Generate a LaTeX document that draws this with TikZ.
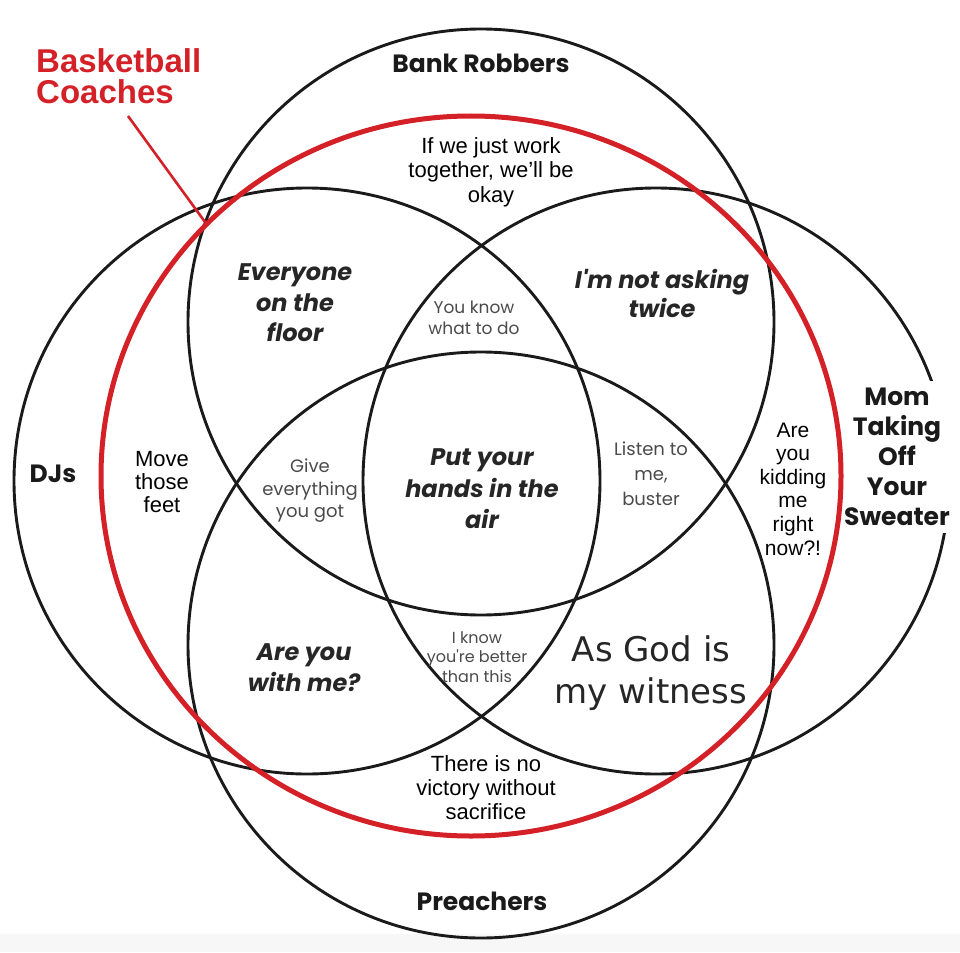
\documentclass[tikz,border=0pt]{standalone}
\usepackage{fontspec}
\setmainfont{Liberation Sans}
\newfontfamily\pop{Poppins}
\newfontfamily\dvs{DejaVu Sans}
\definecolor{ink}{HTML}{1A1A1A}
\definecolor{darktxt}{HTML}{262626}
\definecolor{soft}{HTML}{4A4A4A}
\definecolor{coachred}{HTML}{D42027}
\definecolor{strip}{HTML}{F7F7F7}
\tikzset{
  ring/.style={draw=ink, line width=2.9pt},
  redring/.style={draw=coachred, line width=5pt},
  txt/.style={inner sep=0pt, align=center, text=black},
  title/.style={inner sep=0pt, align=center, text=ink, font=\pop\bfseries\fontsize{25}{30}\selectfont},
  quote/.style={inner sep=0pt, align=center, text=darktxt, font=\pop\bfseries\itshape\fontsize{24}{30.5}\selectfont},
  small/.style={inner sep=0pt, align=center, text=soft},
}
\begin{document}
\begin{tikzpicture}[x=1pt, y=-1pt]
\useasboundingbox (0,0) rectangle (960,952);
\fill[strip] (0,934) rectangle (960,952);

% the four black circles
\draw[ring] (481,322) circle[radius=293];
\draw[ring] (307,481) circle[radius=293];
\draw[ring] (656,481) circle[radius=293];
\draw[ring] (481,645) circle[radius=293];

% set labels
\node[title, anchor=base] (bank) at (481,73) {Bank Robbers};
\node[title, anchor=base] (djs) at (53,482) {DJs};
\node[title, anchor=base] (preach) at (482,910) {Preachers};
\node[title, fill=white, inner sep=7pt] (mom) at (897,457) {Mom\\Taking\\Off\\Your\\Sweater};

% region texts
\node[txt, font=\fontsize{22}{24.5}\selectfont] (work) at (491,172) {If we just work\\together, we'll be\\okay};
\node[quote] (floor) at (295,303) {Everyone\\on the\\floor};
\node[quote, font=\pop\bfseries\itshape\fontsize{24}{29}\selectfont] (twice) at (662,293) {I'm not asking\\twice};
\node[small, font=\pop\fontsize{17}{21}\selectfont] (know) at (474,318) {You know\\what to do};
\node[txt, font=\fontsize{22}{23}\selectfont] (feet) at (162,482) {Move\\those\\feet};
\node[small, font=\pop\fontsize{18}{22.5}\selectfont] (give) at (310,491) {Give\\everything\\you got};
\node[quote, font=\pop\bfseries\itshape\fontsize{24}{31.5}\selectfont] (hands) at (482,489) {Put your\\hands in the\\air};
\node[small, font=\pop\fontsize{18}{25}\selectfont] (listen) at (651,474) {Listen to\\me,\\buster};
\node[txt, font=\fontsize{21}{23.6}\selectfont] (kid) at (793,489) {Are\\you\\kidding\\me\\right\\now?!};
\node[quote, font=\pop\bfseries\itshape\fontsize{24}{31}\selectfont] (withme) at (304,668) {Are you\\with me?};
\node[small, font=\pop\fontsize{16}{19.5}\selectfont] (better) at (477,657) {I know\\you're better\\than this};
\node[txt, text=darktxt, font=\dvs\fontsize{34}{42}\selectfont] (god) at (651,673) {As God is\\my witness};
\node[txt, font=\fontsize{22}{24}\selectfont] (victory) at (486,788) {There is no\\victory without\\sacrifice};

% basketball coaches
\draw[redring] (471,476) ellipse[x radius=370, y radius=360];
\node[inner sep=0pt, align=left, anchor=west, text=coachred, font=\bfseries\fontsize{33}{31}\selectfont] (coach) at (36,76) {Basketball\\Coaches};
\coordinate (ptrA) at (128,116);
\coordinate (ptrB) at (205,222);
\draw[coachred, line width=2.6pt] (ptrA) -- (ptrB);
\end{tikzpicture}
\end{document}
